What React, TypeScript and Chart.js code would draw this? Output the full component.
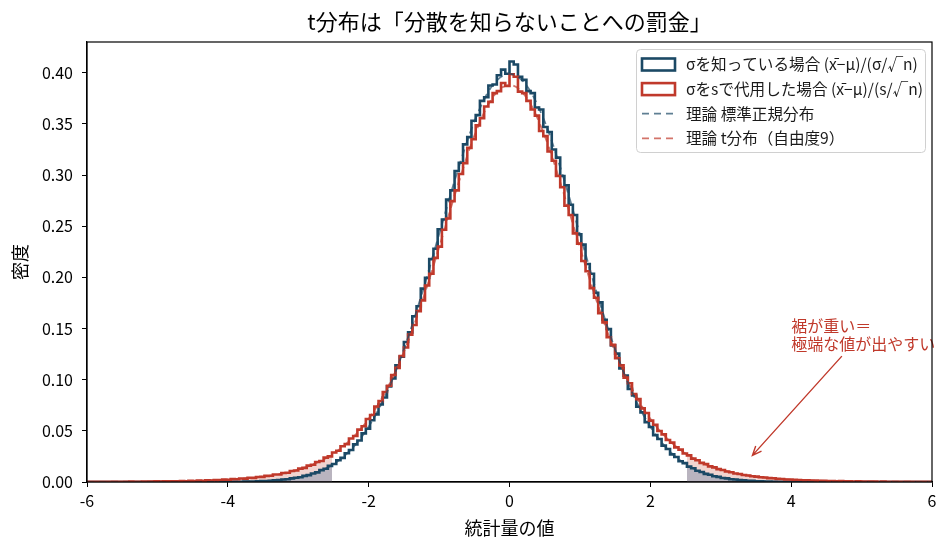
import { useEffect, useRef } from 'react';
import { Chart, registerables, type ChartConfiguration, type Plugin } from 'chart.js';

Chart.register(...registerables);

// histogram bins: -6 .. 6, width 0.06 -> 200 bins
const binStart = -6;
const binWidth = 0.06;
const tailLeftEnd = 58;      // bins left of -2.52
const tailRightStart = 142;  // bins right of 2.52

// sigma known: (x̄-μ)/(σ/√n)
const knownSigmaDensity = [
    0, 0, 0, 0, 0, 0, 0, 0, 0, 0,
    0, 0, 0, 0, 0, 0, 0, 0, 0, 0,
    0, 0, 0, 0, 0, 0, 0, 0, 0, 0.0001,
    0, 0.0002, 0.0001, 0.0001, 0.0002, 0.0003, 0.0002, 0.0004, 0.0005, 0.0005,
    0.0007, 0.0009, 0.0010, 0.0012, 0.0017, 0.0018, 0.0024, 0.0027, 0.0035, 0.0041,
    0.0046, 0.0060, 0.0067, 0.0083, 0.0094, 0.0116, 0.0130, 0.0158, 0.0176, 0.0212,
    0.0236, 0.0281, 0.0312, 0.0368, 0.0405, 0.0475, 0.0522, 0.0604, 0.0661, 0.0757,
    0.0826, 0.0935, 0.1012, 0.1140, 0.1225, 0.1368, 0.1462, 0.1620, 0.1718, 0.1890,
    0.1995, 0.2178, 0.2280, 0.2470, 0.2565, 0.2760, 0.2850, 0.3040, 0.3120, 0.3300,
    0.3370, 0.3530, 0.3585, 0.3725, 0.3760, 0.3875, 0.3885, 0.3975, 0.4030, 0.3990,
    0.4110, 0.4080, 0.3960, 0.3930, 0.3820, 0.3800, 0.3660, 0.3640, 0.3470, 0.3420,
    0.3250, 0.3170, 0.2990, 0.2900, 0.2710, 0.2610, 0.2420, 0.2320, 0.2130, 0.2035,
    0.1850, 0.1755, 0.1585, 0.1495, 0.1335, 0.1255, 0.1110, 0.1040, 0.0910, 0.0845,
    0.0735, 0.0680, 0.0585, 0.0538, 0.0458, 0.0420, 0.0355, 0.0322, 0.0270, 0.0245,
    0.0203, 0.0184, 0.0150, 0.0135, 0.0110, 0.0098, 0.0079, 0.0071, 0.0056, 0.0050,
    0.0039, 0.0035, 0.0027, 0.0024, 0.0018, 0.0016, 0.0012, 0.0011, 0.0008, 0.0007,
    0.0005, 0.0005, 0.0003, 0.0003, 0.0002, 0.0002, 0.0001, 0.0001, 0, 0.0001,
    0, 0, 0, 0, 0, 0, 0, 0, 0, 0,
    0, 0, 0, 0, 0, 0, 0, 0, 0, 0,
    0, 0, 0, 0, 0, 0, 0, 0, 0, 0,
];

// sigma replaced by s: (x̄-μ)/(s/√n)
const estSigmaDensity = [
    0.0001, 0.0002, 0.0001, 0.0002, 0.0002, 0.0001, 0.0003, 0.0002, 0.0003, 0.0002,
    0.0004, 0.0003, 0.0003, 0.0005, 0.0004, 0.0004, 0.0006, 0.0005, 0.0007, 0.0006,
    0.0008, 0.0007, 0.0010, 0.0008, 0.0011, 0.0010, 0.0013, 0.0012, 0.0016, 0.0015,
    0.0019, 0.0018, 0.0023, 0.0022, 0.0028, 0.0027, 0.0034, 0.0033, 0.0041, 0.0040,
    0.0049, 0.0050, 0.0060, 0.0061, 0.0073, 0.0074, 0.0088, 0.0091, 0.0107, 0.0112,
    0.0131, 0.0138, 0.0160, 0.0168, 0.0195, 0.0205, 0.0238, 0.0250, 0.0288, 0.0305,
    0.0350, 0.0370, 0.0425, 0.0450, 0.0512, 0.0545, 0.0615, 0.0655, 0.0738, 0.0790,
    0.0880, 0.0940, 0.1045, 0.1115, 0.1230, 0.1315, 0.1440, 0.1535, 0.1670, 0.1775,
    0.1920, 0.2035, 0.2190, 0.2300, 0.2465, 0.2575, 0.2745, 0.2850, 0.3010, 0.3115,
    0.3265, 0.3350, 0.3485, 0.3555, 0.3670, 0.3715, 0.3800, 0.3820, 0.3900, 0.3870,
    0.3985, 0.3960, 0.3815, 0.3800, 0.3725, 0.3640, 0.3580, 0.3430, 0.3380, 0.3230,
    0.3140, 0.2990, 0.2880, 0.2700, 0.2610, 0.2430, 0.2330, 0.2160, 0.2060, 0.1895,
    0.1800, 0.1650, 0.1560, 0.1415, 0.1340, 0.1210, 0.1140, 0.1020, 0.0965, 0.0860,
    0.0810, 0.0720, 0.0675, 0.0600, 0.0560, 0.0498, 0.0465, 0.0410, 0.0385, 0.0338,
    0.0316, 0.0278, 0.0260, 0.0228, 0.0213, 0.0187, 0.0175, 0.0153, 0.0143, 0.0126,
    0.0117, 0.0102, 0.0096, 0.0083, 0.0078, 0.0069, 0.0064, 0.0056, 0.0053, 0.0046,
    0.0044, 0.0038, 0.0036, 0.0031, 0.0030, 0.0025, 0.0025, 0.0021, 0.0020, 0.0017,
    0.0017, 0.0014, 0.0014, 0.0011, 0.0012, 0.0009, 0.0010, 0.0008, 0.0009, 0.0006,
    0.0007, 0.0005, 0.0006, 0.0004, 0.0005, 0.0004, 0.0004, 0.0003, 0.0004, 0.0002,
    0.0003, 0.0002, 0.0003, 0.0002, 0.0001, 0.0002, 0.0001, 0.0002, 0.0001, 0.0001,
];

// theory curves sampled at -6, -5.75, ..., 6
const curveStart = -6;
const curveStep = 0.25;
const normalCurve = [
    0, 0, 0, 0, 0, 0, 0, 0,
    0.0001, 0.0004, 0.0009, 0.0020, 0.0044, 0.0091, 0.0175, 0.0317,
    0.0540, 0.0863, 0.1295, 0.1826, 0.2420, 0.3011, 0.3521, 0.3867,
    0.3989,
    0.3867, 0.3521, 0.3011, 0.2420, 0.1826, 0.1295, 0.0863, 0.0540,
    0.0317, 0.0175, 0.0091, 0.0044, 0.0020, 0.0009, 0.0004, 0.0001,
    0, 0, 0, 0, 0, 0, 0, 0,
];
const tCurve = [
    0.0001, 0.0002, 0.0003, 0.0004, 0.0005, 0.0007, 0.0011, 0.0016,
    0.0023, 0.0035, 0.0053, 0.0080, 0.0121, 0.0184, 0.0278, 0.0417,
    0.0618, 0.0897, 0.1271, 0.1743, 0.2291, 0.2865, 0.3383, 0.3748,
    0.3880,
    0.3748, 0.3383, 0.2865, 0.2291, 0.1743, 0.1271, 0.0897, 0.0618,
    0.0417, 0.0278, 0.0184, 0.0121, 0.0080, 0.0053, 0.0035, 0.0023,
    0.0016, 0.0011, 0.0007, 0.0005, 0.0004, 0.0003, 0.0002, 0.0001,
];

const seriesLabels = [
    'σを知っている場合 (x̄−μ)/(σ/√n)',
    'σをsで代用した場合 (x̄−μ)/(s/√n)',
    '理論 標準正規分布',
    '理論 t分布（自由度9）',
];
const titleText = 't分布は「分散を知らないことへの罰金」';
const xLabel = '統計量の値';
const yLabel = '密度';
const noteLines = ['裾が重い＝', '極端な値が出やすい'];
const noteAt = [4.0, 0.15];
const arrowFrom = [4.72, 0.123];
const arrowTo = [3.45, 0.026];

const BLUE = '#1b4965';
const RED = '#c0392b';
const FONT = "'Noto Sans CJK JP', 'Noto Sans', sans-serif";

function stepPoints(vals: number[], from: number, to: number, closed: boolean) {
    const pts: { x: number, y: number }[] = [];
    if (closed) pts.push({ x: binStart + from * binWidth, y: 0 });
    for (let i = from; i < to; i++) pts.push({ x: binStart + i * binWidth, y: vals[i] });
    pts.push({ x: binStart + to * binWidth, y: vals[to - 1] });
    if (closed) pts.push({ x: binStart + to * binWidth, y: 0 });
    return pts;
}

function curvePoints(vals: number[]) {
    return vals.map((v, i) => ({ x: curveStart + i * curveStep, y: v }));
}

const decor: Plugin<'line'> = {
    id: 'decor',
    afterDraw(chart) {
        const { ctx, chartArea: a, scales } = chart;
        const xs = scales.x, ys = scales.y;
        const cx = (a.left + a.right) / 2;
        ctx.save();
        ctx.fillStyle = '#000';
        ctx.textAlign = 'center';
        ctx.textBaseline = 'middle';
        ctx.font = `22px ${FONT}`;
        ctx.fillText(titleText, cx, a.top - 20);
        ctx.font = `18px ${FONT}`;
        ctx.fillText(xLabel, cx, a.bottom + 46);
        ctx.save();
        ctx.translate(20, (a.top + a.bottom) / 2);
        ctx.rotate(-Math.PI / 2);
        ctx.fillText(yLabel, 0, 0);
        ctx.restore();

        // annotation
        ctx.fillStyle = RED;
        ctx.textAlign = 'left';
        ctx.font = `16px ${FONT}`;
        const nx = xs.getPixelForValue(noteAt[0]);
        const ny = ys.getPixelForValue(noteAt[1]);
        noteLines.forEach((t, i) => ctx.fillText(t, nx, ny - 3 + i * 18.5));
        const x0 = xs.getPixelForValue(arrowFrom[0]), y0 = ys.getPixelForValue(arrowFrom[1]);
        const x1 = xs.getPixelForValue(arrowTo[0]), y1 = ys.getPixelForValue(arrowTo[1]);
        const ang = Math.atan2(y1 - y0, x1 - x0);
        ctx.strokeStyle = RED;
        ctx.lineWidth = 1.4;
        ctx.beginPath();
        ctx.moveTo(x0, y0);
        ctx.lineTo(x1, y1);
        ctx.moveTo(x1 - 10 * Math.cos(ang - 0.4), y1 - 10 * Math.sin(ang - 0.4));
        ctx.lineTo(x1, y1);
        ctx.lineTo(x1 - 10 * Math.cos(ang + 0.4), y1 - 10 * Math.sin(ang + 0.4));
        ctx.stroke();

        // frame
        ctx.strokeStyle = '#000';
        ctx.lineWidth = 1.2;
        ctx.strokeRect(a.left, a.top, a.right - a.left, a.bottom - a.top);

        // legend
        const lx = a.right - 296, ly = a.top + 7, lw = 289, lh = 103;
        ctx.beginPath();
        ctx.roundRect(lx + 0.5, ly + 0.5, lw, lh, 4);
        ctx.fillStyle = 'rgba(255,255,255,0.85)';
        ctx.fill();
        ctx.strokeStyle = '#d0d0d0';
        ctx.lineWidth = 1;
        ctx.stroke();
        const handles = [
            { kind: 'box', color: BLUE },
            { kind: 'box', color: RED },
            { kind: 'dash', color: 'rgba(27,73,101,0.7)' },
            { kind: 'dash', color: 'rgba(192,57,43,0.7)' },
        ];
        ctx.font = `15.6px ${FONT}`;
        ctx.textBaseline = 'middle';
        handles.forEach((h, i) => {
            const ry = ly + 15.5 + i * 24.6;
            const hx = lx + 6;
            ctx.strokeStyle = h.color;
            if (h.kind === 'box') {
                ctx.lineWidth = 2.6;
                ctx.setLineDash([]);
                ctx.strokeRect(hx, ry - 6, 33, 12);
            } else {
                ctx.lineWidth = 1.8;
                ctx.setLineDash([7, 5]);
                ctx.beginPath();
                ctx.moveTo(hx, ry);
                ctx.lineTo(hx + 33, ry);
                ctx.stroke();
            }
            ctx.setLineDash([]);
            ctx.fillStyle = '#1a1a1a';
            ctx.fillText(seriesLabels[i], lx + 50, ry);
        });
        ctx.restore();
    },
};

export default function App() {
    const chartRef = useRef<HTMLCanvasElement>(null);

    useEffect(() => {
        document.body.style.margin = '0';
        if (!chartRef.current) return;
        const n = knownSigmaDensity.length;
        const stepStyle = { stepped: 'before' as const, pointRadius: 0, tension: 0 };

        const config = {
            type: 'line',
            data: {
                datasets: [
                    {
                        label: 'tail-t',
                        data: [...stepPoints(estSigmaDensity, 0, tailLeftEnd, false), { x: NaN, y: NaN }, ...stepPoints(estSigmaDensity, tailRightStart, n, false)],
                        ...stepStyle,
                        borderWidth: 0,
                        backgroundColor: 'rgba(192,57,43,0.22)',
                        fill: 'origin',
                        order: 6,
                    },
                    {
                        label: 'tail-z',
                        data: [...stepPoints(knownSigmaDensity, 0, tailLeftEnd, false), { x: NaN, y: NaN }, ...stepPoints(knownSigmaDensity, tailRightStart, n, false)],
                        ...stepStyle,
                        borderWidth: 0,
                        backgroundColor: 'rgba(100,133,165,0.4)',
                        fill: 'origin',
                        order: 5,
                    },
                    {
                        label: seriesLabels[0],
                        data: stepPoints(knownSigmaDensity, 0, n, true),
                        ...stepStyle,
                        borderColor: BLUE,
                        borderWidth: 2.6,
                        borderJoinStyle: 'miter',
                        fill: false,
                        order: 4,
                    },
                    {
                        label: seriesLabels[1],
                        data: stepPoints(estSigmaDensity, 0, n, true),
                        ...stepStyle,
                        borderColor: RED,
                        borderWidth: 2.6,
                        borderJoinStyle: 'miter',
                        fill: false,
                        order: 3,
                    },
                    {
                        label: seriesLabels[2],
                        data: curvePoints(normalCurve),
                        borderColor: 'rgba(27,73,101,0.7)',
                        borderWidth: 1.8,
                        borderDash: [7, 5],
                        pointRadius: 0,
                        cubicInterpolationMode: 'monotone',
                        fill: false,
                        order: 2,
                    },
                    {
                        label: seriesLabels[3],
                        data: curvePoints(tCurve),
                        borderColor: 'rgba(192,57,43,0.7)',
                        borderWidth: 1.8,
                        borderDash: [7, 5],
                        pointRadius: 0,
                        cubicInterpolationMode: 'monotone',
                        fill: false,
                        order: 1,
                    },
                ],
            },
            options: {
                responsive: false,
                animation: false,
                events: [],
                layout: { padding: { top: 42, right: 18, left: 0, bottom: 0 } },
                plugins: {
                    legend: { display: false },
                    tooltip: { enabled: false },
                },
                scales: {
                    x: {
                        type: 'linear',
                        min: -6,
                        max: 6,
                        afterFit: (s: any) => { s.height = 69; },
                        grid: { drawOnChartArea: false, drawTicks: true, tickLength: 5, color: '#000' },
                        border: { display: true, color: '#000', width: 1.2 },
                        ticks: { stepSize: 2, color: '#000', padding: 4, font: { size: 16, family: FONT } },
                    },
                    y: {
                        type: 'linear',
                        min: 0,
                        max: 0.43,
                        afterFit: (s: any) => { s.width = 87; },
                        grid: { drawOnChartArea: false, drawTicks: true, tickLength: 5, color: '#000' },
                        border: { display: true, color: '#000', width: 1.2 },
                        ticks: {
                            stepSize: 0.05,
                            includeBounds: false,
                            color: '#000',
                            padding: 9,
                            font: { size: 16, family: FONT },
                            callback: (v: any) => Number(v).toFixed(2),
                        },
                    },
                },
            },
            plugins: [decor],
        };

        const chart = new Chart(chartRef.current, config as unknown as ChartConfiguration);
        return () => {
            chart.destroy();
        };
    }, []);

    return (
        <div style={{ width: 950, height: 551 }}>
            <canvas ref={chartRef} width={950} height={551} style={{ display: 'block' }}></canvas>
        </div>
    );
}
